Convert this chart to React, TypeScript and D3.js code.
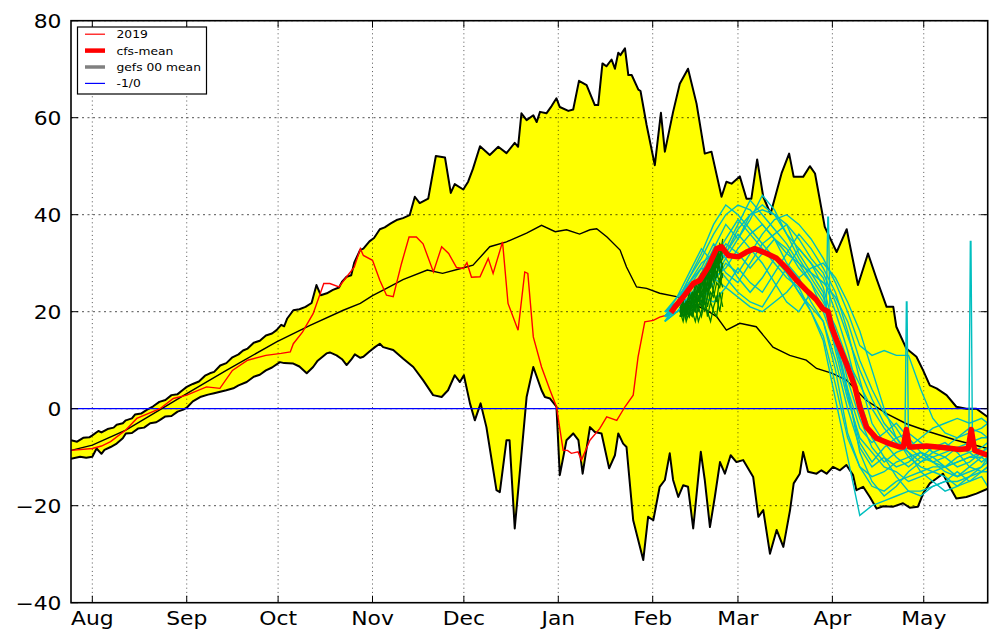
import React from 'react';
import * as d3 from 'd3';

// ---- axis / ticks (day index: 0 = Aug 1) ----
const X_DOMAIN = [-7, 294];
const Y_DOMAIN = [-40, 80];
const X_TICK_DAYS = [0, 31, 61, 92, 122, 153, 184, 212, 243, 273];
const X_TICK_LABELS = ['Aug', 'Sep', 'Oct', 'Nov', 'Dec', 'Jan', 'Feb', 'Mar', 'Apr', 'May'];
const Y_TICKS = [-40, -20, 0, 20, 40, 60, 80];

// ---- climatological envelope: max ----
const UPPER_DAYS = [-7, -5, -3, -1, 0, 2, 3, 5, 7, 8, 10, 11, 13, 14, 16, 18, 20, 22, 24, 26, 28, 30, 31, 33, 35, 37, 38.6, 40, 42, 44, 46, 48, 49.5, 51, 53, 55, 57, 59, 60.5, 62, 63, 64, 66, 68, 70, 72, 73.6, 75, 77, 79, 81, 82, 83.5, 85, 86, 87.9, 89, 91, 92.5, 94.4, 96, 98, 99.9, 102, 104.2, 105.9, 107.5, 110.3, 112.8, 115.8, 117.7, 119, 121.8, 123.4, 125, 127.3, 130.5, 133.3, 136, 138.7, 139.8, 140.9, 142.6, 144.8, 145.9, 147, 149.1, 150.8, 152.4, 153.5, 156.3, 157.9, 159.8, 162.3, 165, 166.1, 167.5, 168.8, 170.5, 171.6, 172.7, 173.4, 174.9, 176, 177.1, 179.3, 180, 182, 184.7, 186.7, 188, 190.7, 192.9, 195.6, 198.4, 201.1, 203.3, 206.6, 208.2, 209.9, 212.6, 214.8, 216.4, 218.3, 220.3, 222.7, 226.3, 228.8, 230.3, 233.4, 235.6, 237.3, 240.5, 244.4, 247.7, 251.4, 254.7, 257.5, 260.8, 263, 264, 267.3, 270.6, 272.8, 275, 277.2, 280.5, 283.7, 287, 290.3, 294];
const UPPER_VALS = [-6.5, -6.8, -6.0, -5.9, -5.5, -4.6, -4.9, -4.2, -3.9, -3.3, -3.0, -2.4, -2.0, -1.2, -1.0, -0.2, 0.5, 1.4, 1.8, 2.8, 3.0, 4.0, 4.5, 5.1, 5.6, 6.8, 7.3, 7.6, 8.9, 9.4, 10.6, 11.2, 12, 12.4, 13.6, 14.0, 15.1, 15.5, 16.2, 17.3, 17.0, 18.6, 20.3, 20.5, 21.0, 21.8, 25.5, 23.4, 23.8, 24.5, 25.0, 26.2, 27.2, 27.5, 30.1, 32.7, 33.0, 34.5, 35.2, 37, 37.4, 38.2, 38.9, 39.3, 39.9, 43.7, 42.4, 43.3, 52.1, 51.8, 44.5, 46.3, 45.2, 46.8, 49.5, 54.1, 52.3, 54, 52.7, 54.8, 54, 60.9, 59.5, 60.5, 59.1, 61.2, 60.9, 62.4, 64, 62.2, 61.4, 61.7, 67.6, 66.7, 62.6, 62.6, 71.2, 70.6, 72, 70.1, 73.4, 72.9, 74.3, 68.8, 68.8, 65.8, 65.5, 58.5, 50.2, 61, 53, 61.2, 67, 70.1, 62.9, 52.6, 53, 43.7, 46.8, 46.4, 47.9, 43.3, 43.3, 51.4, 43.7, 40.2, 48.5, 52.6, 47.8, 47.8, 50, 48.5, 37.5, 32.3, 37, 25.5, 32, 26.8, 21, 21, 16.9, 12.4, 10.7, 7.9, 4.8, 4.2, 2.8, 0.4, 0, 0, -1.7];

// ---- climatological envelope: min ----
const LOWER_DAYS = [-7, -4, -2, 0, 1.4, 3, 4, 6, 8, 10, 11, 13, 15, 17, 19, 21, 22, 24, 26, 28, 29.9, 31, 33, 35.4, 38, 40, 42, 44, 46.3, 48, 50.7, 53, 55, 57, 59, 61.6, 63, 66, 68, 70.4, 72.5, 74, 76.9, 78, 80.2, 82, 83.5, 85, 86.2, 88, 89, 91, 92.8, 94.4, 95.5, 98.8, 102.1, 105.4, 108.6, 111.9, 114.7, 116.8, 119, 120.7, 122, 124, 125.6, 127.5, 129.4, 132.7, 133.8, 136, 137, 138.7, 142.6, 144.8, 147.5, 148.6, 150.3, 152.4, 153.5, 155.7, 157.9, 159.6, 161, 163.4, 165, 167.2, 169.7, 171.6, 172.7, 174.3, 175.4, 177.6, 180.9, 182.5, 184.2, 186.3, 188, 189.6, 190.7, 192.4, 194, 195.6, 197.3, 199.8, 201.1, 202.8, 204.4, 206.1, 207.7, 209.6, 211.5, 213.7, 217, 218.7, 220.3, 222.5, 224.7, 226.9, 229.1, 230.3, 232.3, 233.4, 235, 237.8, 239.4, 241.1, 243.2, 245.5, 247.6, 249.8, 250.9, 253.1, 255.3, 257.5, 259.7, 263, 266.2, 268.4, 271.1, 272.8, 275, 277.2, 279.3, 281.5, 283.7, 287, 290.3, 294];
const LOWER_VALS = [-10.3, -9.9, -10.1, -9.9, -8.2, -9.3, -8.5, -7.9, -7.2, -6.1, -5.1, -5.0, -4.1, -3.9, -3.0, -2.8, -2.4, -1.6, -1.5, -0.6, -0.2, 0.2, 1.5, 2.4, 2.9, 3.2, 3.5, 3.8, 4.2, 4.8, 5.5, 6.6, 7.0, 7.9, 8.5, 9.6, 9.4, 9.3, 8.7, 7.3, 8.6, 9.9, 11.4, 11.6, 11, 10.2, 9, 10.1, 11.2, 10.5, 10.7, 11.8, 12.7, 13.4, 12.7, 12.1, 10.3, 8.6, 5.9, 2.8, 2.4, 3.8, 6.9, 5.5, 6.9, 1.1, -2.4, 1.1, -3.8, -16.8, -17.2, -6.5, -6.5, -24.7, 2.4, 8.6, 3.8, 2.4, 2.1, 0.4, -13.7, -6.5, -5.1, -6.5, -13.4, -3.8, -4.8, -5.1, -12.3, -9.6, -5.1, -7.2, -7.9, -23, -31.2, -22.3, -23, -16.1, -14.7, -9.2, -14.7, -18.2, -15.8, -16.1, -24.7, -8.9, -14.7, -24.4, -18.2, -11, -13.4, -9.6, -11, -10.6, -14.1, -22.3, -20.9, -29.9, -25, -28.5, -20.9, -15.4, -13.4, -8.9, -13, -13.4, -12.7, -13.4, -12, -12.7, -11.6, -13.7, -16.8, -16.1, -18.2, -20.6, -20.1, -20.2, -19.5, -20.4, -20.2, -17.5, -15.4, -14.4, -13.4, -16.1, -18.5, -18.2, -17.5, -16.5];

// ---- climatological mean ----
const MEAN_DAYS = [-7, 0, 11, 22, 31, 44, 60.5, 71.5, 82.4, 88, 92, 96.6, 102, 110, 115, 121, 125, 130.5, 136, 142.6, 147.5, 152, 155.7, 160, 163.4, 165.6, 169, 173.3, 175.4, 178.7, 182, 186.3, 191.8, 196, 201.7, 205, 208.2, 212.6, 218, 223.5, 229, 234.4, 237.8, 243, 247.6, 254, 260.8, 267.3, 275, 283.7, 294];
const MEAN_VALS = [-8.6, -7.5, -4.4, -0.3, 3.1, 7.9, 13.8, 17.2, 20.3, 21.7, 23.3, 24.8, 26.6, 28.6, 27.9, 28.9, 29.6, 33.4, 34.4, 36.2, 37.8, 36.5, 36.9, 36, 36.9, 37.1, 35.4, 32.7, 29.2, 25.1, 24.8, 23.8, 23.1, 22, 20.3, 19, 16.2, 17.6, 16.9, 12.7, 11, 10, 8.3, 7.3, 5.9, 1.8, -1, -3.1, -4.8, -6.5, -8.2];

// ---- 2019 observed ----
const OBS_DAYS = [-7, 0, 3, 6, 11, 14.6, 22.2, 26.6, 31, 37.5, 41.9, 46, 51, 57, 62, 65, 66, 69, 72.5, 76, 78, 81, 83, 86, 88, 89, 92, 94.4, 96.6, 98.8, 101.5, 104, 106.4, 108.6, 112, 114.7, 117, 119.6, 121.8, 123, 124.5, 127.3, 130, 131.6, 134.7, 136.5, 139.8, 142, 143, 144.8, 147.5, 150.3, 152.4, 154.6, 156, 157.3, 159.5, 160.6, 163.4, 166.6, 168.9, 172.2, 174.9, 177.6, 179.2, 181.4, 184.2, 186.3, 188, 190];
const OBS_VALS = [-8.6, -8.2, -7.7, -6.8, -4.4, -2, 0, 2.1, 2.8, 4.5, 4.2, 7.9, 10, 11, 11.4, 11.7, 13.4, 15.8, 19.6, 25.8, 25.8, 25.1, 26.8, 29.2, 33, 31.6, 30.6, 26.5, 23.4, 23.1, 29.9, 35.4, 35.4, 34, 28.2, 33.4, 32, 29.1, 28.9, 30.1, 27.1, 27.2, 31, 27.9, 34.4, 21.7, 16.2, 28.2, 27.9, 14.8, 8.6, 3.8, 0.4, -8.6, -8.6, -9.2, -8.9, -10.6, -6.5, -4.1, -1.7, -2.4, 0.4, 2.8, 10.7, 17.9, 18.2, 18.9, 19.2, 19.8];

// ---- cfs ensemble mean ----
const CFS_DAYS = [190, 191.3, 194, 197.3, 199.5, 202.2, 205, 206.6, 208.8, 212.1, 214.8, 217.5, 221.4, 224.7, 228, 231.2, 234.5, 237.8, 239.9, 241.6, 242.7, 244.4, 247.6, 250.4, 252, 254.2, 257.5, 261.8, 265.1, 266.3, 267.3, 268.3, 269.5, 273.9, 279.3, 284.8, 287.6, 288.6, 289.7, 294];
const CFS_VALS = [19.8, 21, 23, 25.8, 26.5, 29.2, 33, 33.4, 31.6, 31.3, 32.3, 33, 32, 31, 28.9, 26.5, 24.4, 22.4, 20.6, 20, 16.9, 14.1, 9.3, 4.5, 0.4, -3.8, -6.1, -7.2, -7.9, -7.9, -4.3, -7.9, -7.9, -7.7, -8, -8.4, -8.2, -4.3, -8.6, -9.6];

// ---- cfs ensemble members ----
const CYAN_DAYS = [188, 192, 196, 200, 204, 208, 212, 216, 220, 224, 228, 232, 236, 240, 244, 248, 252, 256, 260, 264, 268, 272, 276, 280, 284, 288, 292, 294];
const CYAN_1 = [19, 22, 27, 31, 36, 40, 42, 41, 38, 35, 30, 27, 22, 18, 8, -5, -12, -16, -17, -15, -14, -13, -12, -12, -11, -10, -10, -9];
const CYAN_2 = [20, 21, 24, 28, 33, 38, 35, 40, 42, 40, 36, 33, 30, 27, 20, 12, 2, -6, -10, -12, -11, -9, -10, -12, -11, -10, -9, -8];
const CYAN_3 = [19, 20, 23, 26, 29, 32, 37, 40, 41, 40, 38, 32, 28, 24, 12, 2, -6, -9, -12, -13, -15, -14, -13, -12, -14, -13, -12, -11];
const CYAN_4 = [18, 21, 26, 30, 32, 28, 26, 30, 34, 36, 38, 35, 31, 28, 22, 15, 8, 2, -3, -6, -5, -7, -9, -8, -6, -5, -4, -3];
const CYAN_5 = [20, 23, 28, 33, 30, 27, 24, 22, 21, 25, 29, 33, 30, 25, 16, 6, -2, -8, -11, -9, -8, -10, -11, -13, -14, -12, -13, -12];
const CYAN_6 = [19, 22, 25, 27, 31, 35, 39, 36, 33, 30, 27, 25, 20, 14, 2, -10, -22, -20, -19, -18, -17, -17, -16, -15, -15, -14, -13, -13];
const CYAN_7 = [18, 20, 22, 25, 29, 33, 38, 43, 40, 37, 34, 30, 26, 22, 17, 10, 5, 0, -4, -7, -9, -11, -10, -9, -8, -9, -8, -7];
const CYAN_8 = [19, 21, 24, 22, 26, 30, 28, 32, 36, 39, 40, 38, 35, 31, 26, 20, 13, 11, 12, 11, 11, 4, -2, -5, -6, -4, -5, -6];
const CYAN_9 = [20, 22, 26, 29, 34, 31, 27, 24, 27, 31, 28, 24, 21, 18, 10, 0, -8, -12, -10, -14, -17, -18, -16, -15, -13, -15, -14, -16];
const CYAN_10 = [19, 20, 23, 27, 30, 34, 32, 29, 32, 35, 33, 29, 26, 20, 13, 4, -4, -7, -5, -3, -6, -9, -11, -10, -8, -7, -6, -6];
const CYAN_11 = [18, 22, 27, 32, 38, 42, 40, 37, 34, 31, 28, 24, 20, 15, 5, -6, -12, -14, -13, -11, -10, -12, -13, -14, -16, -15, -13, -12];
const CYAN_12 = [20, 21, 23, 25, 27, 29, 33, 36, 38, 35, 32, 30, 28, 26, 23, 18, 10, 4, -1, -4, -8, -6, -4, -3, -2, -3, -2, -3];
const CYAN_13 = [19, 23, 26, 24, 28, 32, 36, 33, 30, 26, 22, 20, 24, 21, 14, 3, -7, -11, -8, -6, -9, -13, -15, -17, -16, -14, -12, -10];
const CYAN_14 = [18, 20, 21, 23, 22, 25, 23, 21, 20, 22, 24, 27, 29, 30, 27, 22, 16, 8, 0, -6, -10, -9, -11, -12, -10, -9, -11, -10];
const CYAN_15 = [19, 21, 25, 29, 27, 31, 35, 39, 44, 41, 36, 31, 27, 23, 15, 4, -9, -15, -18, -16, -13, -11, -9, -10, -12, -11, -9, -8];
const CYAN_16 = [20, 22, 24, 23, 27, 25, 29, 26, 24, 28, 32, 36, 33, 29, 24, 16, 6, -3, -7, -10, -12, -10, -8, -7, -9, -12, -10, -11];
const CYAN_MEMBERS = [CYAN_1, CYAN_2, CYAN_3, CYAN_4, CYAN_5, CYAN_6, CYAN_7, CYAN_8, CYAN_9, CYAN_10, CYAN_11, CYAN_12, CYAN_13, CYAN_14, CYAN_15, CYAN_16];
// single-day spikes in members
const SPIKE_DAYS = [241.6, 267.4, 288.4];
const SPIKE_BASE = [21, -8, -8];
const SPIKE_PEAK = [39.5, 22, 34.5];

// ---- gefs members (short range) ----
const GREEN_DAYS = [193, 194, 195, 196, 197, 198, 199, 200, 201, 202, 203, 204, 205, 206, 207];
const GREEN_1 = [20, 21, 19, 22, 21, 24, 22, 26, 25, 29, 27, 31, 30, 33, 32];
const GREEN_2 = [19, 22, 20, 21, 23, 21, 25, 23, 27, 24, 29, 26, 31, 28, 30];
const GREEN_3 = [21, 20, 22, 20, 22, 25, 23, 21, 26, 28, 25, 30, 27, 32, 29];
const GREEN_4 = [20, 19, 21, 23, 20, 22, 26, 24, 22, 27, 30, 28, 33, 29, 27];
const GREEN_5 = [21, 22, 20, 19, 24, 23, 20, 25, 28, 23, 26, 31, 29, 34, 31];
const GREEN_6 = [19, 20, 22, 21, 19, 23, 24, 27, 24, 26, 31, 27, 32, 30, 34];
const GREEN_7 = [20, 18, 21, 19, 20, 18, 21, 19, 22, 20, 18, 21, 23, 20, 24];
const GREEN_8 = [19, 21, 18, 20, 19, 21, 18, 20, 23, 19, 22, 20, 19, 24, 21];
const GREEN_9 = [20, 22, 21, 24, 22, 26, 24, 28, 26, 30, 28, 32, 30, 34, 33];
const GREEN_10 = [21, 19, 22, 21, 23, 22, 25, 24, 23, 26, 25, 29, 28, 31, 35];
const GREEN_11 = [20, 21, 20, 22, 21, 20, 23, 22, 25, 21, 24, 23, 26, 25, 28];
const GREEN_12 = [19, 20, 21, 19, 22, 24, 22, 27, 25, 28, 26, 29, 32, 30, 31];
const GREEN_13 = [20, 22, 19, 21, 20, 23, 21, 24, 20, 23, 27, 24, 22, 27, 25];
const GREEN_14 = [21, 20, 21, 22, 24, 20, 23, 21, 24, 26, 22, 25, 28, 26, 30];
const GREEN_MEMBERS = [GREEN_1, GREEN_2, GREEN_3, GREEN_4, GREEN_5, GREEN_6, GREEN_7, GREEN_8, GREEN_9, GREEN_10, GREEN_11, GREEN_12, GREEN_13, GREEN_14];

const LEGEND_LABELS = ['2019', 'cfs-mean', 'gefs 00 mean', '-1/0'];
const LEGEND_COLORS = ['#ff0000', '#ff0000', '#808080', '#0000ff'];
const LEGEND_WIDTHS = [1.2, 4.5, 3.5, 1.2];

const FONT = 'DejaVu Sans, Verdana, sans-serif';
const STRETCH = 1.15;

const zip = (ds: number[], vs: number[]): [number, number][] => ds.map((d, i) => [d, vs[i]]);

export default function App() {
  const left = 71, right = 987.7, top = 20.7, bottom = 602.7;
  const x = d3.scaleLinear().domain(X_DOMAIN).range([left, right]);
  const y = d3.scaleLinear().domain(Y_DOMAIN).range([bottom, top]);
  const line = d3.line<[number, number]>().x(p => x(p[0])).y(p => y(p[1]));

  const upper = zip(UPPER_DAYS, UPPER_VALS);
  const lower = zip(LOWER_DAYS, LOWER_VALS);
  const fillPath = (line(upper) || '') + 'L' + (line(lower.slice().reverse()) || '').slice(1) + 'Z';

  const spikePaths = SPIKE_DAYS.map((d, i) =>
    line([[d - 0.6, SPIKE_BASE[i]], [d - 0.1, SPIKE_PEAK[i]], [d + 0.1, SPIKE_PEAK[i]], [d + 0.6, SPIKE_BASE[i]]]) || '');

  return (
    <svg width={1000} height={640} style={{ position: 'absolute', left: 0, top: 0, background: '#fff' }}
      fontFamily={FONT}>
      <defs>
        <clipPath id="plot"><rect x={left} y={top} width={right - left} height={bottom - top} /></clipPath>
      </defs>
      <g clipPath="url(#plot)">
        <path d={fillPath} fill="#ffff00" stroke="none" />
        {/* grid */}
        {X_TICK_DAYS.map(d => (
          <line key={'gx' + d} x1={x(d)} x2={x(d)} y1={top} y2={bottom} stroke="#000" strokeWidth={0.9} strokeDasharray="1,3.2" opacity={0.75} />
        ))}
        {Y_TICKS.map(v => (
          <line key={'gy' + v} x1={left} x2={right} y1={y(v)} y2={y(v)} stroke="#000" strokeWidth={0.9} strokeDasharray="2,3.5" opacity={0.75} />
        ))}
        <path d={line(upper) || ''} fill="none" stroke="#000" strokeWidth={2} strokeLinejoin="round" />
        <path d={line(lower) || ''} fill="none" stroke="#000" strokeWidth={2} strokeLinejoin="round" />
        <line x1={left} x2={right} y1={y(0)} y2={y(0)} stroke="#0000ff" strokeWidth={1.2} />
        <path d={line(zip(MEAN_DAYS, MEAN_VALS)) || ''} fill="none" stroke="#000" strokeWidth={1.4} />
        <path d={line(zip(OBS_DAYS, OBS_VALS)) || ''} fill="none" stroke="#ff0000" strokeWidth={1.4} />
        {CYAN_MEMBERS.map((m, i) => (
          <path key={'c' + i} d={line(zip(CYAN_DAYS, m)) || ''} fill="none" stroke="#00bfbf" strokeWidth={1.4} />
        ))}
        {spikePaths.map((p, i) => (
          <path key={'s' + i} d={p} fill="none" stroke="#00bfbf" strokeWidth={1.4} />
        ))}
        {GREEN_MEMBERS.map((m, i) => (
          <path key={'g' + i} d={line(zip(GREEN_DAYS, m)) || ''} fill="none" stroke="#007f00" strokeWidth={1.3} />
        ))}
        <path d={line(zip(CFS_DAYS, CFS_VALS)) || ''} fill="none" stroke="#ff0000" strokeWidth={5.5} strokeLinejoin="round" />
      </g>

      {/* frame */}
      <rect x={left} y={top} width={right - left} height={bottom - top} fill="none" stroke="#000" strokeWidth={1.6} />
      {/* ticks */}
      {X_TICK_DAYS.map(d => (
        <g key={'tx' + d}>
          <line x1={x(d)} x2={x(d)} y1={bottom} y2={bottom - 7} stroke="#000" strokeWidth={1} />
          <line x1={x(d)} x2={x(d)} y1={top} y2={top + 7} stroke="#000" strokeWidth={1} />
        </g>
      ))}
      {Y_TICKS.map(v => (
        <g key={'ty' + v}>
          <line x1={left} x2={left + 7} y1={y(v)} y2={y(v)} stroke="#000" strokeWidth={1} />
          <line x1={right} x2={right - 7} y1={y(v)} y2={y(v)} stroke="#000" strokeWidth={1} />
        </g>
      ))}
      {/* tick labels */}
      {X_TICK_DAYS.map((d, i) => (
        <text key={'lx' + d} transform={`translate(${x(d)},${bottom + 22.5}) scale(${STRETCH},1)`}
          textAnchor="middle" fontSize={19} fill="#000">{X_TICK_LABELS[i]}</text>
      ))}
      {Y_TICKS.map(v => (
        <text key={'ly' + v} transform={`translate(${left - 9.5},${y(v) + 7}) scale(${STRETCH},1)`}
          textAnchor="end" fontSize={19} fill="#000">{v < 0 ? '\u2212' + Math.abs(v) : String(v)}</text>
      ))}

      {/* legend */}
      <rect x={77.5} y={27} width={129} height={67} fill="#fff" stroke="#000" strokeWidth={1.2} />
      {LEGEND_LABELS.map((lab, i) => {
        const ly = 34.2 + i * 16.4;
        return (
          <g key={'lg' + i}>
            <line x1={85} x2={105} y1={ly} y2={ly} stroke={LEGEND_COLORS[i]} strokeWidth={LEGEND_WIDTHS[i]} />
            <text transform={`translate(116.5,${ly + 4}) scale(1.12,1)`} fontSize={11} fill="#000">{lab}</text>
          </g>
        );
      })}
    </svg>
  );
}
